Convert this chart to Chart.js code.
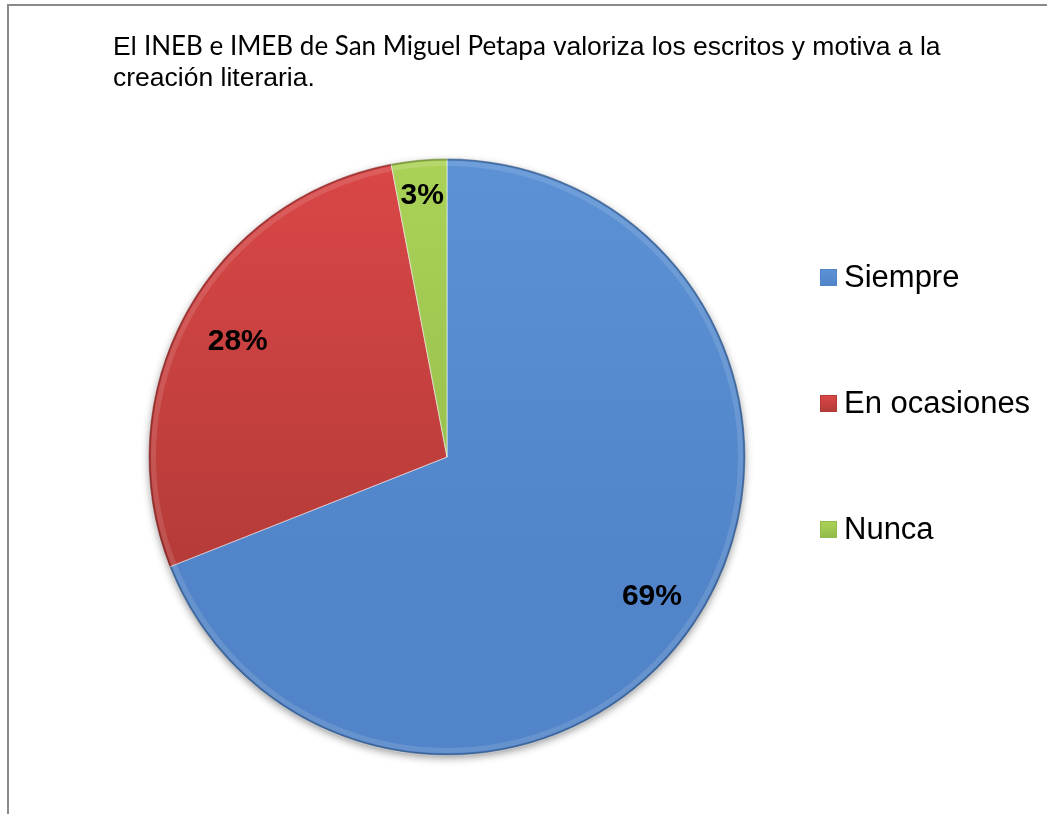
<!DOCTYPE html>
<html>
<head>
<meta charset="utf-8">
<script src="https://cdn.jsdelivr.net/npm/chart.js@4"></script>
<style>
  html, body { margin: 0; padding: 0; background: #fff; overflow: hidden; }
  #frame { position: absolute; left: 7px; top: 4px; width: 2000px; height: 2000px;
           border-left: 2px solid #8a8a8a; border-top: 2px solid #8a8a8a; }
  #wrap { position: absolute; left: 0; top: 0; width: 1047px; height: 814px; }
  #title { position: absolute; left: 113px; top: 30px; width: 900px;
           font-family: "Liberation Sans", Arial, sans-serif; font-size: 26.5px; line-height: 31px; color: #000; }
  #title .cal { font-family: Lato, "Open Sans", sans-serif; font-size: 26px; }
  #legend { position: absolute; left: 820px; top: 0; font-family: "Liberation Sans", Arial, sans-serif;
            font-size: 31px; color: #000; }
  .item { position: absolute; left: 0; white-space: nowrap; display: flex; align-items: center; height: 40px; }
  .box { width: 17px; height: 17px; margin-right: 7px; box-sizing: border-box; }
</style>
</head>
<body>
<div id="frame"></div>
<div id="wrap"><canvas id="c" width="1047" height="814"></canvas></div>
<div id="title">El <span class="cal">INEB e IMEB de San Miguel Petapa</span> valoriza los escritos y motiva a la<br>creación literaria.</div>
<div id="legend"></div>
<script>
const categories = ['Siempre', 'En ocasiones', 'Nunca'];
const values = [69, 28, 3];
const percentLabels = ['69%', '28%', '3%'];
const topColors = ['#5c92d5', '#da4747', '#abd257'];
const bottomColors = ['#5184c8', '#b43b38', '#93bb4b'];
const baseColors = ['#578bcf', '#c4403e', '#a0c650'];

// legend (html, rows at fixed heights)
const legendRows = [277, 403, 529];
const legend = document.getElementById('legend');
categories.forEach((name, i) => {
  const row = document.createElement('div');
  row.className = 'item';
  row.style.top = (legendRows[i] - 20) + 'px';
  const box = document.createElement('div');
  box.className = 'box';
  box.style.background = 'linear-gradient(180deg, ' + topColors[i] + ', ' + bottomColors[i] + ')';
  box.style.border = '1px solid ' + bottomColors[i];
  row.appendChild(box);
  row.appendChild(document.createTextNode(name));
  legend.appendChild(row);
});

function sliceFill(context) {
  const chart = context.chart;
  const area = chart.chartArea;
  const i = context.dataIndex;
  if (!area) return baseColors[i];
  const g = chart.ctx.createLinearGradient(0, area.top, 0, area.bottom);
  g.addColorStop(0, topColors[i]);
  g.addColorStop(0.7, bottomColors[i]);
  g.addColorStop(1, bottomColors[i]);
  return g;
}

const pieDecor = {
  id: 'pieDecor',
  beforeDatasetsDraw(chart) {
    const arc = chart.getDatasetMeta(0).data[0];
    if (!arc) return;
    const ctx = chart.ctx;
    ctx.save();
    ctx.shadowColor = 'rgba(0,0,0,0.45)';
    ctx.shadowBlur = 9;
    ctx.shadowOffsetY = 3;
    ctx.beginPath();
    ctx.arc(arc.x, arc.y, arc.outerRadius - 1, 0, Math.PI * 2);
    ctx.fillStyle = '#5184c8';
    ctx.fill();
    ctx.restore();
  },
  afterDatasetsDraw(chart, args, opts) {
    const meta = chart.getDatasetMeta(0);
    const ctx = chart.ctx;
    const first = meta.data[0];
    // rim bevel
    ctx.save();
    ctx.beginPath();
    ctx.arc(first.x, first.y, first.outerRadius - 5, 0, Math.PI * 2);
    ctx.strokeStyle = 'rgba(255,255,255,0.12)';
    ctx.lineWidth = 5;
    ctx.stroke();
    ctx.beginPath();
    ctx.arc(first.x, first.y, first.outerRadius - 1, 0, Math.PI * 2);
    ctx.strokeStyle = 'rgba(0,0,0,0.25)';
    ctx.lineWidth = 2;
    ctx.stroke();
    ctx.restore();
    // percentage labels
    ctx.save();
    ctx.font = 'bold 30px "Liberation Sans", Arial, sans-serif';
    ctx.fillStyle = '#000';
    ctx.textAlign = 'center';
    ctx.textBaseline = 'middle';
    meta.data.forEach((a, i) => {
      const mid = (a.startAngle + a.endAngle) / 2;
      const r = a.outerRadius * opts.offsets[i];
      ctx.fillText(percentLabels[i], a.x + Math.cos(mid) * r, a.y + Math.sin(mid) * r);
    });
    ctx.restore();
  }
};

new Chart(document.getElementById('c'), {
  type: 'pie',
  data: {
    labels: categories,
    datasets: [{
      data: values,
      backgroundColor: sliceFill,
      borderColor: 'rgba(255,255,255,0.55)',
      borderWidth: 1
    }]
  },
  options: {
    responsive: false,
    animation: false,
    layout: { padding: { left: 148, right: 301, top: 158, bottom: 58 } },
    plugins: {
      legend: { display: false },
      tooltip: { enabled: false },
      pieDecor: { offsets: [0.83, 0.80, 0.88] }
    }
  },
  plugins: [pieDecor]
});
</script>
</body>
</html>
